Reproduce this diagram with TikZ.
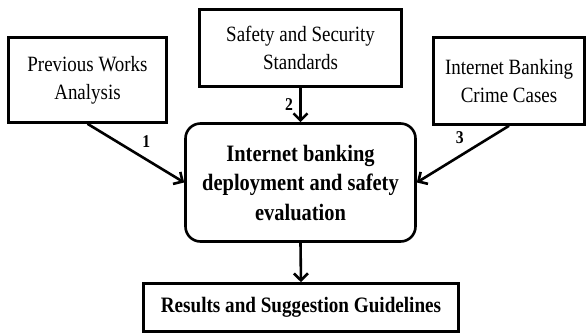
\documentclass[tikz,border=0pt]{standalone}
\usepackage{fontspec}
\setmainfont{Liberation Serif}[FakeStretch=0.87]
\usetikzlibrary{arrows.meta, positioning}

\begin{document}
\begin{tikzpicture}[x=1pt, y=-1pt,
    box/.style={draw, rectangle, line width=2.6pt, align=center, inner sep=0pt,
        font=\fontsize{21.8}{28}\selectfont},
    flow/.style={line width=2.6pt, -{Straight Barb[length=7pt, width=14pt, line width=2.6pt]}},
    num/.style={font=\fontsize{18}{18}\bfseries\selectfont}]
    \useasboundingbox (0,0) rectangle (587,333);

    \node[box, minimum width=158pt, minimum height=85pt] (prev) at (87.5,80) {Previous Works\\Analysis};
    \node[box, minimum width=202pt, minimum height=77pt] (safety) at (300.5,48) {Safety and Security\\Standards};
    \node[box, minimum width=151pt, minimum height=87pt] (crime) at (509,81) {Internet Banking\\Crime Cases};
    \node[box, rounded corners=15pt, minimum width=230pt, minimum height=118pt,
        font=\fontsize{23.5}{29.5}\bfseries\selectfont] (eval) at (300.5,182.5)
        {Internet banking\\deployment and safety\\evaluation};
    \node[box, minimum width=315pt, minimum height=48pt, font=\fontsize{22}{26}\bfseries\selectfont]
        (results) at (301,307.5) {Results and Suggestion Guidelines};

    \draw[flow] (prev.south) -- node[num, pos=0.5, above right=1pt and 2pt] {1} (eval.west);
    \draw[flow] (safety.south) -- node[num, left=3pt] {2} (eval.north);
    \draw[flow] (crime.south) -- node[num, pos=0.42, above left=1pt and 2pt] {3} (eval.east);
    \draw[flow] (eval.south) -- (results.north);
\end{tikzpicture}
\end{document}
